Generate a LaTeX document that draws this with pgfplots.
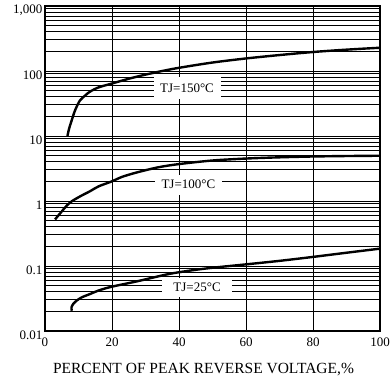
\documentclass[border=0pt]{standalone}
\usepackage{pgfplots}
\pgfplotsset{compat=1.18}
\usepackage{fontspec}
\setmainfont{Liberation Serif}
\begin{document}
\begin{tikzpicture}
\begin{axis}[
  at={(0,0)}, anchor=south west,
  scale only axis, width=335pt, height=325pt,
  xmin=0, xmax=100, ymode=log, log basis y=10,
  ymin=0.01, ymax=1000,
  xtick={0,20,40,60,80,100},
  ytick={0.01,0.1,1,10,100,1000},
  minor ytick={0.02,0.03,0.04,0.05,0.06,0.07,0.08,0.09,0.2,0.3,0.4,0.5,0.6,0.7,0.8,0.9,2,3,4,5,6,7,8,9,20,30,40,50,60,70,80,90,200,300,400,500,600,700,800,900},
  yticklabels={0.01,0.1,1,10,100,{1,000}},
  /pgf/number format/assume math mode=true,
  ticklabel style={font=\fontsize{13}{13}\selectfont},
  yticklabel style={yshift=-4pt, xshift=1pt},
  xticklabel style={yshift=-3pt},
  major tick length=0pt, minor tick length=0pt,
  xmajorgrids=true, ymajorgrids=true, yminorgrids=true,
  major grid style={black, line width=1pt},
  minor grid style={black, line width=1pt},
  axis line style={black, line width=1.3pt},
  xlabel={PERCENT OF PEAK REVERSE VOLTAGE,\%},
  xlabel style={font=\fontsize{15.5}{15.5}\selectfont, yshift=-10pt, xshift=-9pt},
  clip=true,
]
\addplot[black, line width=2.4pt, smooth] coordinates {
(6.7,10) (7.2,13) (8.0,17.6) (9,25) (10.4,35) (12,42) (13.4,48) (16,56) (19.9,64) (25,76) (30,88) (35,100) (40,112) (50,135) (60,156) (70,176) (80,196) (90,213) (100,228)};
\addplot[black, line width=2.4pt, smooth] coordinates {
(3.0,0.52) (4,0.6) (5,0.69) (6.5,0.85) (8,0.99) (10.5,1.18) (13.4,1.41) (16,1.68) (19.9,2.0) (23,2.35) (27.4,2.75) (33.8,3.3) (40,3.7) (50,4.2) (60,4.5) (70,4.7) (80,4.84) (90,4.92) (100,4.97)};
\addplot[black, line width=2.4pt, smooth] coordinates {
(8.0,0.0205) (7.9,0.023) (8.4,0.026) (9.5,0.0295) (11,0.033) (13.4,0.037) (16,0.042) (19.9,0.048) (27.4,0.058) (36.8,0.075) (43.3,0.085) (50,0.094) (60,0.106) (70,0.12) (80,0.138) (90,0.16) (100,0.185)};
\node[fill=white, inner sep=0pt, minimum width=67pt, minimum height=22pt, font=\fontsize{13}{13}\selectfont] at (axis cs:42.4,55) {TJ=150°C};
\node[fill=white, inner sep=0pt, minimum width=67pt, minimum height=20pt, font=\fontsize{13}{13}\selectfont] at (axis cs:42.8,1.78) {TJ=100°C};
\node[fill=white, inner sep=0pt, minimum width=70pt, minimum height=19pt, font=\fontsize{13}{13}\selectfont] at (axis cs:45.4,0.047) {TJ=25°C};
\end{axis}
\pgfresetboundingbox
\path[use as bounding box] (-45pt,-47pt) rectangle (346pt,331pt);
\end{tikzpicture}
\end{document}
